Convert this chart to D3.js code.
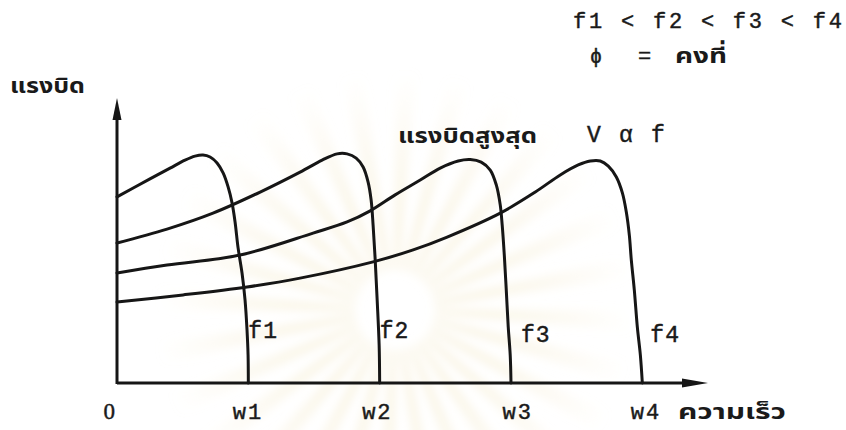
<!DOCTYPE html>
<html>
<head>
<meta charset="utf-8">
<script src="https://cdn.jsdelivr.net/npm/d3@7/dist/d3.min.js"></script>
<style>
  html, body { margin: 0; padding: 0; background: #ffffff; }
  svg { display: block; }
  .mono { font-family: "Liberation Mono", "DejaVu Sans Mono", monospace; fill: #1a1a1a; stroke: #1a1a1a; stroke-width: 0.45; }
  .thai { font-family: "Noto Sans Thai", "Noto Sans", "DejaVu Sans", sans-serif; fill: #1a1a1a; font-weight: bold; }
</style>
</head>
<body>
<svg id="chart" width="846" height="430"></svg>
<script>
// Speed in multiples of w1, torque on a 0-100 relative scale
const speedTicks = [0, 1, 2, 3, 4];
const speedTickLabels = ["0", "w1", "w2", "w3", "w4"];
const freqLabels = ["f1", "f2", "f3", "f4"];

const f1Speed  = [0, 0.251, 0.404, 0.518, 0.594, 0.655, 0.709, 0.762, 0.808, 0.846, 0.876, 0.899, 0.922, 0.952, 0.975, 0.990, 0.998, 1.0];
const f1Torque = [65.3, 71.6, 75.4, 78.2, 79.6, 80.0, 79.3, 77.2, 73.7, 68.8, 63.2, 56.5, 47.4, 38.6, 29.1, 18.6, 9.8, 0];

const f2Speed  = [0, 0.381, 0.731, 1.090, 1.394, 1.562, 1.676, 1.752, 1.821, 1.874, 1.912, 1.935, 1.950, 1.966, 1.981, 1.996, 2.0];
const f2Torque = [49.1, 54.0, 59.6, 67.0, 74.0, 78.2, 80.4, 80.4, 78.9, 75.8, 70.5, 64.2, 55.4, 43.2, 29.1, 13.3, 0];

const f3Speed  = [0, 0.381, 0.937, 1.493, 1.752, 1.928, 2.118, 2.309, 2.461, 2.598, 2.690, 2.773, 2.842, 2.888, 2.918, 2.933, 2.949, 2.964, 2.979, 2.994, 3.0];
const f3Torque = [38.6, 41.4, 44.9, 52.6, 56.5, 60.4, 66.0, 71.2, 75.4, 77.9, 78.4, 77.5, 74.7, 69.5, 62.5, 55.4, 44.9, 32.6, 19.6, 9.8, 0];

const f4Speed  = [0, 0.503, 0.990, 1.394, 1.950, 2.255, 2.514, 2.918, 3.185, 3.375, 3.512, 3.604, 3.680, 3.741, 3.802, 3.848, 3.878, 3.901, 3.916, 3.939, 3.962, 3.985, 4.0];
const f4Torque = [28.4, 30.9, 33.7, 36.8, 42.5, 46.7, 51.2, 59.6, 67.0, 73.0, 76.5, 77.9, 77.9, 76.1, 72.3, 66.7, 60.0, 51.9, 43.2, 32.6, 19.6, 9.8, 0];

const curves = [
  { name: freqLabels[0], speed: f1Speed, torque: f1Torque },
  { name: freqLabels[1], speed: f2Speed, torque: f2Torque },
  { name: freqLabels[2], speed: f3Speed, torque: f3Torque },
  { name: freqLabels[3], speed: f4Speed, torque: f4Torque }
];

const svg = d3.select("#chart");
const defs = svg.append("defs");

const x = d3.scaleLinear().domain([0, 4.5]).range([117, 708]);
const y = d3.scaleLinear().domain([0, 100]).range([383, 98]);

const ink = "#161616";

// faint emblem rays in the page background
const blur = defs.append("filter").attr("id", "soft")
  .attr("x", "-50%").attr("y", "-50%").attr("width", "200%").attr("height", "200%");
blur.append("feGaussianBlur").attr("stdDeviation", 5);
const fadeLocal = defs.append("radialGradient").attr("id", "fadeLocal").attr("gradientUnits", "userSpaceOnUse")
  .attr("cx", 0).attr("cy", 0).attr("r", 240);
fadeLocal.append("stop").attr("offset", "0.15").attr("stop-color", "#f6eed3").attr("stop-opacity", 0.8);
fadeLocal.append("stop").attr("offset", "1").attr("stop-color", "#f6eed3").attr("stop-opacity", 0);
const rayArc = d3.arc().innerRadius(40).outerRadius(240);
const rayAngles = d3.range(28).map(i => i * 2 * Math.PI / 28);
svg.append("g")
  .attr("transform", "translate(395,310)")
  .attr("filter", "url(#soft)")
  .selectAll("path")
  .data(rayAngles)
  .join("path")
  .attr("d", a => rayArc({ startAngle: a, endAngle: a + 0.09 }))
  .attr("fill", "url(#fadeLocal)");

// curves
const line = d3.line()
  .x(d => x(d[0]))
  .y(d => y(d[1]))
  .curve(d3.curveCatmullRom.alpha(0.5));

svg.append("g")
  .selectAll("path")
  .data(curves)
  .join("path")
  .attr("d", c => line(c.speed.map((s, i) => [s, c.torque[i]])))
  .attr("fill", "none")
  .attr("stroke", ink)
  .attr("stroke-width", 3)
  .attr("stroke-linejoin", "round")
  .attr("stroke-linecap", "round");

// speed axis
const xAxis = d3.axisBottom(x)
  .tickValues(speedTicks)
  .tickFormat((d, i) => speedTickLabels[i])
  .tickSize(0);

const tickShift = [-14, -16, -18, -9, -12];
const gx = svg.append("g")
  .attr("transform", `translate(0,${y(0)})`)
  .call(xAxis);
gx.select(".domain").attr("stroke", ink).attr("stroke-width", 3).attr("d", `M${x(0)},0H${x(4.5) - 20}`);
gx.selectAll(".tick text")
  .attr("class", "mono")
  .attr("letter-spacing", 2)
  .attr("text-anchor", "start")
  .attr("y", 36)
  .attr("dy", 0)
  .attr("x", (d, i) => tickShift[i])
  .style("font-family", (d, i) => i === 0 ? "'Liberation Serif', serif" : null)
  .attr("font-size", (d, i) => i === 0 ? 23 : 22);

// y axis line
svg.append("line")
  .attr("x1", x(0)).attr("x2", x(0))
  .attr("y1", y(0) + 1).attr("y2", y(100) + 18)
  .attr("stroke", ink).attr("stroke-width", 3);

// arrow heads
svg.append("path")
  .attr("d", `M${x(4.5)},${y(0)} L${x(4.5) - 26},${y(0) - 4.5} L${x(4.5) - 26},${y(0) + 4.5} Z`)
  .attr("fill", ink);
svg.append("path")
  .attr("d", `M${x(0)},${y(100)} L${x(0) - 4.5},${y(100) + 22} L${x(0) + 4.5},${y(100) + 22} Z`)
  .attr("fill", ink);

// frequency labels beside each falling edge
const labelOffsets = [0, 0, 10, 8];
const labelTorque = [15.8, 15.8, 14.4, 14.4];
svg.append("g")
  .selectAll("text")
  .data(curves)
  .join("text")
  .attr("class", "mono")
  .attr("font-size", 23)
  .attr("letter-spacing", 1)
  .attr("x", (c, i) => x(speedTicks[i + 1]) + labelOffsets[i])
  .attr("y", (c, i) => y(labelTorque[i]))
  .text(c => c.name);

// Thai titles, stretched to the width of the original lettering
function thai(txt, x0, y0, width, size) {
  svg.append("text").attr("class", "thai").attr("font-size", size)
    .attr("x", x0).attr("y", y0)
    .attr("textLength", width).attr("lengthAdjust", "spacingAndGlyphs")
    .text(txt);
}
thai("แรงบิด", 10, 93, 75, 22);
thai("ความเร็ว", 678, 419, 108, 21);

// annotations
svg.append("text").attr("class", "mono").attr("font-size", 22)
  .attr("x", 573).attr("y", 28)
  .attr("textLength", 269).attr("lengthAdjust", "spacing")
  .text("f1 < f2 < f3 < f4");
svg.append("text").attr("class", "mono").attr("font-size", 20)
  .attr("x", 590).attr("y", 63).text("ϕ");
svg.append("text").attr("class", "mono").attr("font-size", 22)
  .attr("x", 638).attr("y", 63).text("=");
thai("คงที่", 675, 63, 52, 22);
thai("แรงบิดสูงสุด", 398, 143, 139, 22);
svg.append("text").attr("class", "mono").attr("font-size", 23)
  .attr("x", 587).attr("y", 142).text("V");
svg.append("text").attr("class", "mono").attr("font-size", 23)
  .attr("x", 619).attr("y", 142).text("α");
svg.append("text").attr("class", "mono").attr("font-size", 23)
  .attr("x", 651).attr("y", 142).text("f");
</script>
</body>
</html>
